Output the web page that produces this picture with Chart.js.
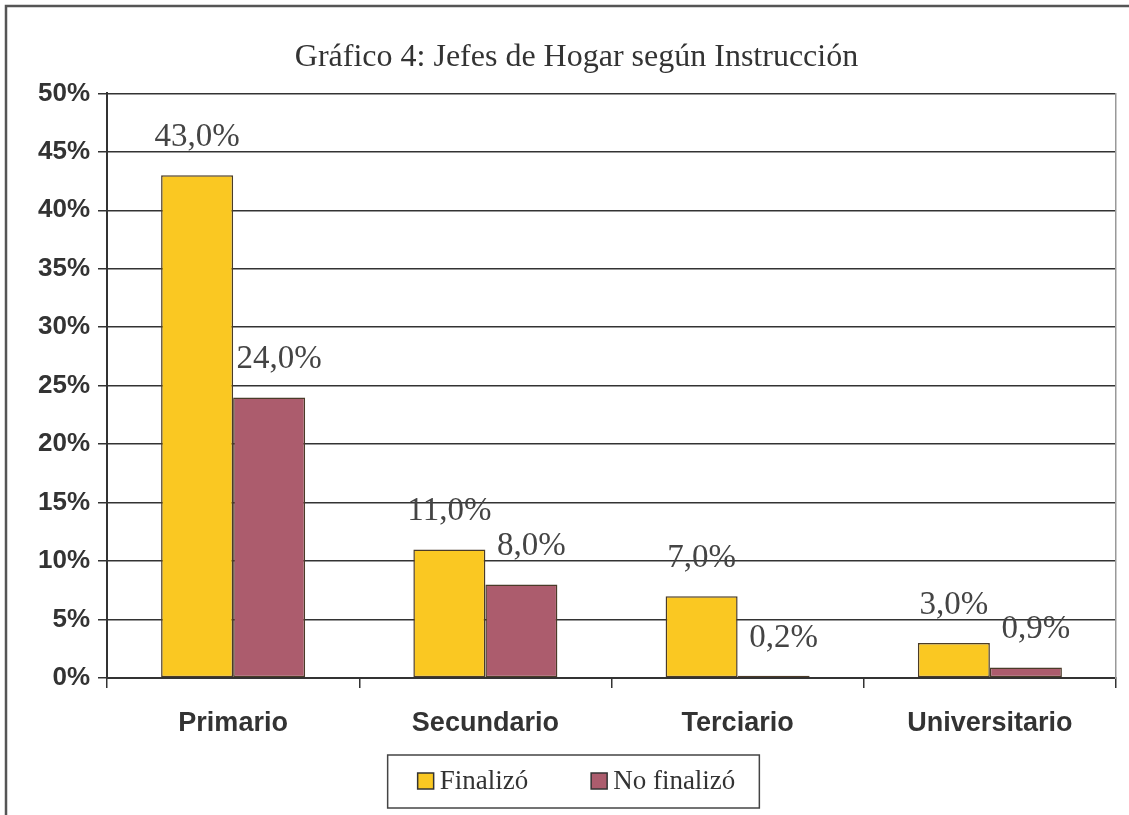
<!DOCTYPE html>
<html>
<head>
<meta charset="utf-8">
<script src="https://cdn.jsdelivr.net/npm/chart.js@4/dist/chart.umd.min.js"></script>
<style>
  html, body { margin: 0; padding: 0; background: #fff; }
  #wrap { width: 1129px; height: 815px; }
</style>
</head>
<body>
<div id="wrap"><canvas id="chart-area" width="1129" height="815"></canvas></div>
<script>
/* data */
var categories = ["Primario", "Secundario", "Terciario", "Universitario"];
var seriesNames = ["Finalizó", "No finalizó"];
var finalizo = [43.0, 11.0, 7.0, 3.0];
var noFinalizo = [24.0, 8.0, 0.2, 0.9];
var yTicks = [0, 5, 10, 15, 20, 25, 30, 35, 40, 45, 50];

var serif = "'Liberation Serif', 'Times New Roman', serif";
var sans = "'Liberation Sans', Arial, sans-serif";

var fmt = function (v) {
    return v.toFixed(1).replace('.', ',') + '%';
};

// outer frame of the scanned figure
var framePlugin = {
    id: 'frame',
    beforeDraw: function (chart) {
        var ctx = chart.ctx;
        ctx.save();
        ctx.strokeStyle = '#555';
        ctx.lineWidth = 2.5;
        ctx.beginPath();
        ctx.moveTo(6, chart.height);
        ctx.lineTo(6, 6);
        ctx.lineTo(chart.width, 6);
        ctx.stroke();
        ctx.restore();
    }
};

// value labels above bars
var valueLabels = {
    id: 'valueLabels',
    afterDatasetsDraw: function (chart) {
        var ctx = chart.ctx;
        var shift = [0, 10];
        ctx.save();
        ctx.font = "33px " + serif;
        ctx.fillStyle = '#444';
        ctx.textAlign = 'center';
        ctx.textBaseline = 'alphabetic';
        chart.data.datasets.forEach(function (ds, i) {
            chart.getDatasetMeta(i).data.forEach(function (bar, j) {
                ctx.fillText(fmt(ds.data[j]), bar.x + shift[i], bar.y - 29);
            });
        });
        ctx.restore();
    }
};

// boxed legend under the axis
var boxLegend = {
    id: 'boxLegend',
    afterDraw: function (chart) {
        var ctx = chart.ctx;
        var sq = 16, gapText = 6, gapItem = 63;
        var cy = 781;
        ctx.save();
        ctx.font = "27px " + serif;
        var widths = chart.data.datasets.map(function (ds) {
            return ctx.measureText(ds.label).width;
        });
        var total = 0;
        widths.forEach(function (w, i) {
            total += sq + gapText + w + (i > 0 ? gapItem : 0);
        });
        var x = chart.width / 2 + 12 - total / 2;
        ctx.strokeStyle = '#444';
        ctx.lineWidth = 1.5;
        ctx.strokeRect(x - 30, 755, total + 54, 53);
        ctx.textBaseline = 'middle';
        chart.data.datasets.forEach(function (ds, i) {
            ctx.fillStyle = ds.backgroundColor;
            ctx.fillRect(x, cy - sq / 2, sq, sq);
            ctx.strokeStyle = '#333';
            ctx.lineWidth = 1.5;
            ctx.strokeRect(x, cy - sq / 2, sq, sq);
            ctx.fillStyle = '#333';
            ctx.fillText(ds.label, x + sq + gapText, cy + 1);
            x += sq + gapText + widths[i] + gapItem;
        });
        ctx.restore();
    }
};

var config = {
    type: 'bar',
    data: {
        labels: categories,
        datasets: [{
                label: seriesNames[0],
                data: finalizo,
                backgroundColor: '#FAC822',
                borderColor: '#4a3b28',
                borderWidth: 1.5,
                borderSkipped: false,
                categoryPercentage: 0.571,
                barPercentage: 1.0
            }, {
                label: seriesNames[1],
                data: noFinalizo,
                backgroundColor: '#AC5C6D',
                borderColor: '#4a3b28',
                borderWidth: 1.5,
                borderSkipped: false,
                categoryPercentage: 0.571,
                barPercentage: 1.0
            }]
    },
    options: {
        responsive: false,
        animation: false,
        devicePixelRatio: 1,
        layout: {
            padding: {left: 24, right: 0, top: 0, bottom: 60}
        },
        plugins: {
            legend: {display: false},
            tooltip: {enabled: false},
            title: {
                display: true,
                text: 'Gráfico 4: Jefes de Hogar según Instrucción',
                color: '#333',
                font: {family: serif, size: 32, weight: 'normal', lineHeight: 1.2},
                padding: {top: 38, bottom: 17}
            }
        },
        scales: {
            x: {
                offset: true,
                grid: {
                    display: true,
                    offset: true,
                    drawOnChartArea: false,
                    drawTicks: true,
                    tickLength: 10,
                    color: '#333',
                    lineWidth: 1.5
                },
                border: {display: true, color: '#333', width: 2},
                ticks: {
                    color: '#333',
                    padding: 19,
                    font: {family: sans, size: 27, weight: 'bold'}
                },
                afterFit: function (scale) { scale.height = 77; }
            },
            y: {
                min: 0,
                max: 50,
                afterBuildTicks: function (scale) {
                    scale.ticks = yTicks.map(function (v) { return {value: v}; });
                },
                grid: {
                    color: '#333',
                    lineWidth: 1.5,
                    drawTicks: true,
                    tickLength: 9
                },
                border: {display: true, color: '#333', width: 2},
                ticks: {
                    color: '#333',
                    padding: 8,
                    font: {family: sans, size: 26, weight: 'bold'},
                    callback: function (v) { return v + '%'; }
                },
                afterFit: function (scale) { scale.width = 83; }
            },
            y2: {
                position: 'right',
                min: 0,
                max: 50,
                grid: {display: false, drawTicks: false},
                border: {display: true, color: '#999', width: 1.5},
                ticks: {display: false},
                afterFit: function (scale) { scale.width = 13; }
            }
        }
    },
    plugins: [framePlugin, valueLabels, boxLegend]
};

var ctx = document.getElementById("chart-area").getContext("2d");
var myBar = new Chart(ctx, config);
</script>
</body>
</html>
